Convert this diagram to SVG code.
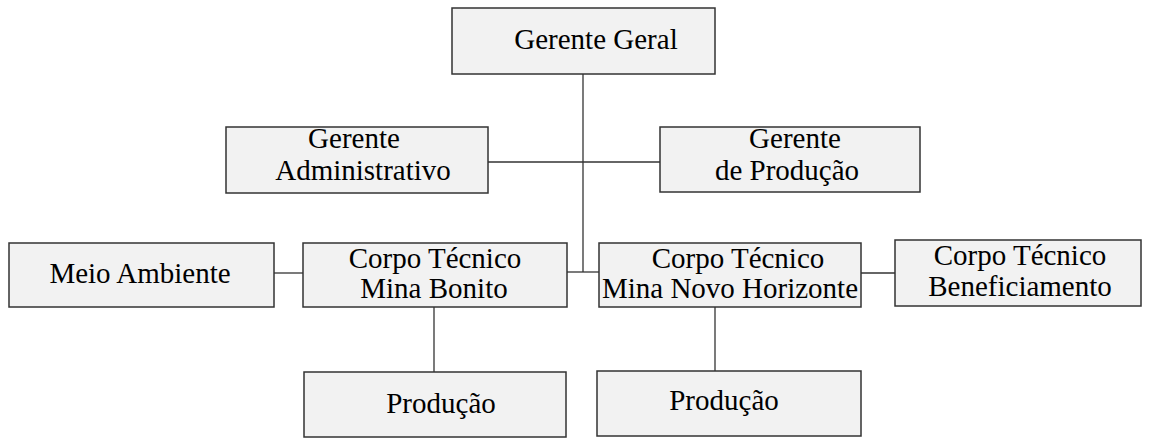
<svg xmlns="http://www.w3.org/2000/svg" width="1150" height="438" viewBox="0 0 1150 438">
<style>
.box{fill:#f2f2f2;stroke:#333;stroke-width:1.5}
.t{font-family:"Liberation Serif","Times New Roman",serif;font-size:29px;fill:#000;text-anchor:middle}
.c{stroke:#333;stroke-width:1.3;fill:none}
</style>
<rect width="1150" height="438" fill="#fff"/>
<g id="connectors">
<line class="c" x1="583" y1="74" x2="583" y2="272"/>
<line class="c" x1="488" y1="162" x2="660" y2="162"/>
<line class="c" x1="567" y1="272" x2="599" y2="272"/>
<line class="c" x1="274" y1="273" x2="303" y2="273"/>
<line class="c" x1="861" y1="273" x2="895" y2="273"/>
<line class="c" x1="434" y1="307" x2="434" y2="372"/>
<line class="c" x1="715" y1="307" x2="715" y2="371"/>
</g>
<g id="gerente-geral">
<rect class="box" x="452" y="8" width="263" height="66"/>
<text class="t" x="596" y="49">Gerente Geral</text>
</g>
<g id="gerente-adm">
<rect class="box" x="226" y="127" width="262" height="66"/>
<text class="t" x="354" y="148">Gerente</text>
<text class="t" x="363" y="180">Administrativo</text>
</g>
<g id="gerente-prod">
<rect class="box" x="660" y="127" width="260" height="65"/>
<text class="t" x="795" y="148">Gerente</text>
<text class="t" x="787" y="180">de Produção</text>
</g>
<g id="meio-ambiente">
<rect class="box" x="9" y="243" width="265" height="64"/>
<text class="t" x="140" y="283">Meio Ambiente</text>
</g>
<g id="ct-bonito">
<rect class="box" x="303" y="243" width="264" height="64"/>
<text class="t" x="435" y="268">Corpo Técnico</text>
<text class="t" x="434" y="298">Mina Bonito</text>
</g>
<g id="ct-novo-horizonte">
<rect class="box" x="599" y="243" width="262" height="64"/>
<text class="t" x="738" y="268">Corpo Técnico</text>
<text class="t" x="730" y="298">Mina Novo Horizonte</text>
</g>
<g id="ct-beneficiamento">
<rect class="box" x="895" y="240" width="246" height="66"/>
<text class="t" x="1020" y="265">Corpo Técnico</text>
<text class="t" x="1020" y="296">Beneficiamento</text>
</g>
<g id="producao-1">
<rect class="box" x="304" y="372" width="262" height="65"/>
<text class="t" x="441" y="413">Produção</text>
</g>
<g id="producao-2">
<rect class="box" x="597" y="371" width="264" height="65"/>
<text class="t" x="724" y="410">Produção</text>
</g>
</svg>
